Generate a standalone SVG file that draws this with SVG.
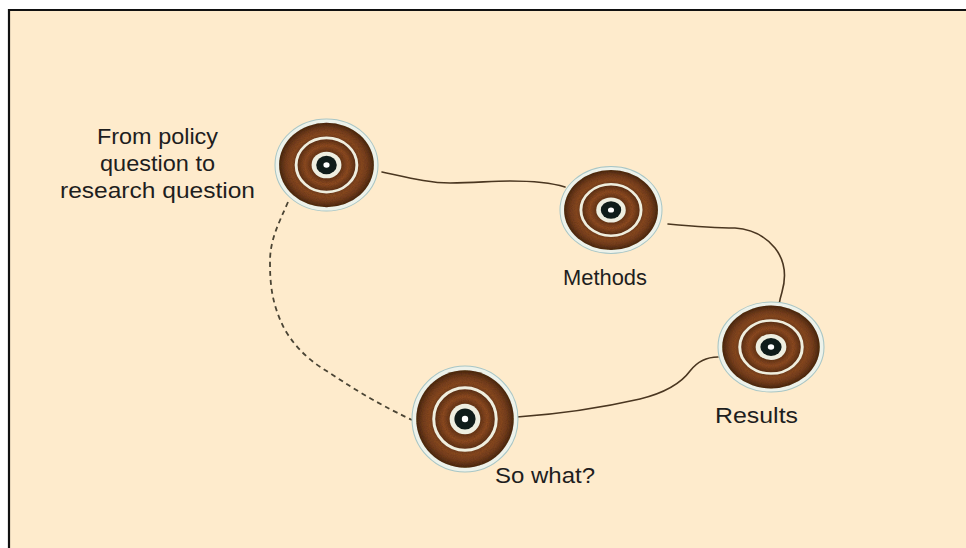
<svg xmlns="http://www.w3.org/2000/svg" width="966" height="548" viewBox="0 0 966 548">
  <style>
    .lbl { font-family: "Liberation Sans", Arial, sans-serif; font-size: 22px; fill: #1e1e1e; }
    .conn { fill: none; stroke: #4a3620; stroke-width: 1.6; stroke-linecap: round; }
    .dash { fill: none; stroke: #4a4434; stroke-width: 1.8; stroke-dasharray: 5 4; }
  </style>
  <defs>
    <radialGradient id="gOuter" gradientUnits="userSpaceOnUse" cx="0" cy="0" r="46">
      <stop offset="0.6" stop-color="#6a3a1c"/>
      <stop offset="0.74" stop-color="#8e4d24"/>
      <stop offset="0.86" stop-color="#7c4220"/>
      <stop offset="1" stop-color="#4f2c16"/>
    </radialGradient>
    <radialGradient id="gInner" gradientUnits="userSpaceOnUse" cx="0" cy="0" r="28">
      <stop offset="0.5" stop-color="#6a381b"/>
      <stop offset="0.75" stop-color="#944f25"/>
      <stop offset="1" stop-color="#643519"/>
    </radialGradient>
    <filter id="grain" x="-10%" y="-10%" width="120%" height="120%">
      <feTurbulence type="fractalNoise" baseFrequency="0.9" numOctaves="2" seed="3" result="n"/>
      <feColorMatrix in="n" type="matrix" values="0 0 0 0 0  0 0 0 0 0  0 0 0 0 0  0 0 0 0.35 0" result="dark"/>
      <feComposite in="dark" in2="SourceGraphic" operator="in" result="darkIn"/>
      <feMerge><feMergeNode in="SourceGraphic"/><feMergeNode in="darkIn"/></feMerge>
    </filter>
    <g id="disc">
      <circle r="50" fill="#edf2ea" stroke="#a8c6c6" stroke-width="1"/>
      <g filter="url(#grain)">
        <circle r="46" fill="url(#gOuter)"/>
        <circle r="27.9" fill="url(#gInner)"/>
      </g>
      <circle r="29.5" fill="none" stroke="#efeede" stroke-width="2.8"/>
      <circle r="14.5" fill="#eeeee0"/>
      <circle r="10" fill="#0f1c1a"/>
      <circle r="3" fill="#ffffff"/>
    </g>
  </defs>

  <rect x="0" y="0" width="966" height="548" fill="#ffffff"/>
  <rect x="9" y="10" width="957" height="538" fill="#feebcc"/>
  <path d="M9 548 V10 H966" fill="none" stroke="#111111" stroke-width="2.2"/>

  <g id="connectors">
    <path class="conn" d="M382 172 C410 178 430 183 450 183 C475 183 490 181 510 181 C535 181 552 183 565 187"/>
    <path class="conn" d="M668 224 C690 226 715 228 735 228 C752 229 765 236 775 248 C786 262 786 278 782 292 C779 302 778 310 778 316"/>
    <path class="conn" d="M718 357 C705 357 697 362 690 371 C682 382 668 392 640 399 C605 407 560 414 517 417"/>
    <path class="dash" d="M288 202 C278 225 270 240 270 262 C270 285 272 305 285 330 C297 350 312 362 325 370 C350 386 370 400 412 420"/>
  </g>

  <g id="node-policy">
    <use href="#disc" transform="translate(326.5,165) scale(1.03,0.92)"/>
    <text class="lbl" x="97" y="144" textLength="121" lengthAdjust="spacingAndGlyphs">From policy</text>
    <text class="lbl" x="100" y="171" textLength="115" lengthAdjust="spacingAndGlyphs">question to</text>
    <text class="lbl" x="60" y="198" textLength="195" lengthAdjust="spacingAndGlyphs">research question</text>
  </g>
  <g id="node-methods">
    <use href="#disc" transform="translate(611,210) scale(1.02,0.87)"/>
    <text class="lbl" x="563" y="285" textLength="84" lengthAdjust="spacingAndGlyphs">Methods</text>
  </g>
  <g id="node-results">
    <use href="#disc" transform="translate(771,347) scale(1.06,0.9)"/>
    <text class="lbl" x="715" y="423" textLength="83" lengthAdjust="spacingAndGlyphs">Results</text>
  </g>
  <g id="node-sowhat">
    <use href="#disc" transform="translate(465,419) scale(1.06,1.06)"/>
    <text class="lbl" x="495" y="483" textLength="100" lengthAdjust="spacingAndGlyphs">So what?</text>
  </g>
</svg>
